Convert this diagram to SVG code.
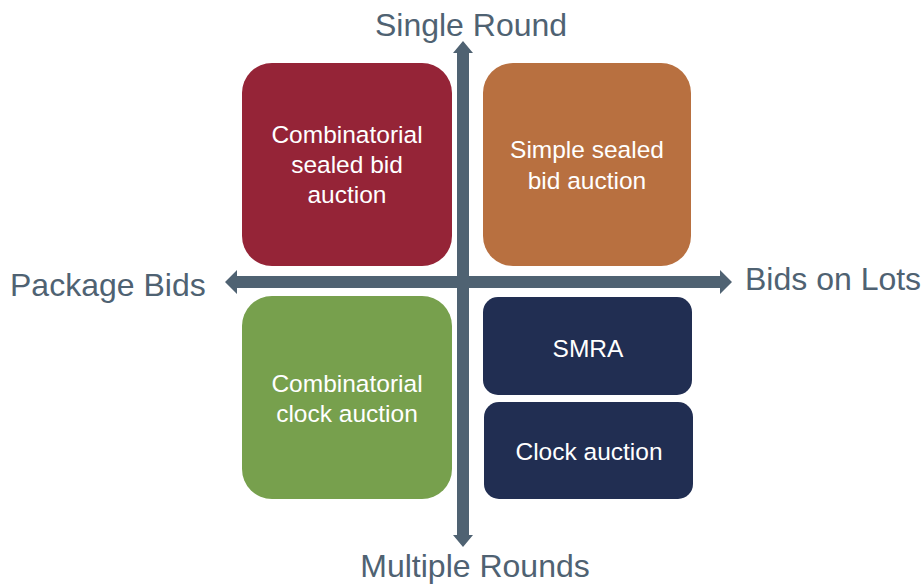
<svg xmlns="http://www.w3.org/2000/svg" width="921" height="585" viewBox="0 0 921 585">
<style>
.ax{font-family:"Liberation Sans",Arial,sans-serif;font-size:32px;fill:#4F6272}
.bx{font-family:"Liberation Sans",Arial,sans-serif;font-size:24.5px;fill:#FFFFFF;text-anchor:middle}
.axis{fill:#4F6272}
</style>
<rect width="921" height="585" fill="#FFFFFF"/>
<g id="connectors">
<polygon class="axis" points="457,53 457,535 453,535 463,547 473,535 469,535 469,53 473,53 463,41 453,53"/>
<polygon class="axis" points="237,276 720,276 720,270 732,282 720,294 720,288 237,288 237,294 225,282 237,270"/>
</g>
<g id="n-combsealed">
<rect x="242" y="63" width="210" height="203" rx="30" fill="#952437"/>
<text class="bx" x="347" y="143">Combinatorial</text>
<text class="bx" x="347" y="173">sealed bid</text>
<text class="bx" x="347" y="203">auction</text>
</g>
<g id="n-simplesealed">
<rect x="483" y="63" width="208" height="203" rx="30" fill="#B87040"/>
<text class="bx" x="587" y="158">Simple sealed</text>
<text class="bx" x="587" y="189">bid auction</text>
</g>
<g id="n-combclock">
<rect x="242" y="296" width="210" height="203" rx="30" fill="#77A04D"/>
<text class="bx" x="347" y="392">Combinatorial</text>
<text class="bx" x="347" y="422">clock auction</text>
</g>
<g id="n-smra">
<rect x="483" y="297" width="209" height="98" rx="15" fill="#212E52"/>
<text class="bx" x="588" y="357">SMRA</text>
</g>
<g id="n-clock">
<rect x="484" y="402" width="209" height="97" rx="15" fill="#212E52"/>
<text class="bx" x="589" y="460">Clock auction</text>
</g>
<g id="labels">
<text class="ax" x="471" y="36" text-anchor="middle">Single Round</text>
<text class="ax" x="10" y="296">Package Bids</text>
<text class="ax" x="745" y="290">Bids on Lots</text>
<text class="ax" x="475" y="577" text-anchor="middle">Multiple Rounds</text>
</g>
</svg>
